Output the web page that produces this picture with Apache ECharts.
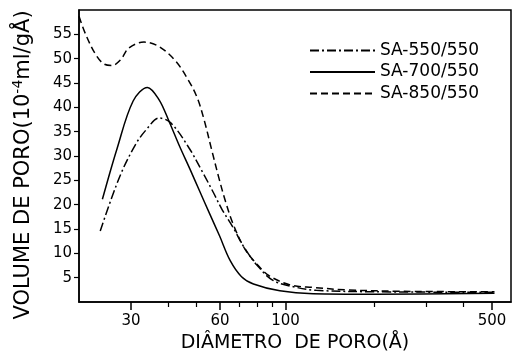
<!DOCTYPE html>
<html>
<head>
<meta charset="utf-8">
<script src="https://cdn.jsdelivr.net/npm/echarts@6/dist/echarts.min.js"></script>
<style>
    html, body { margin: 0; padding: 0; background: #fff; }
    #chart { width: 514px; height: 361px; }
</style>
</head>
<body>
<div id="chart"></div>
<script>
// pore diameter (Å) / pore volume (1e-4 ml/gÅ)
var diam550 = [23.6, 27.4, 31.1, 34, 37.3, 40.9, 47.1, 52.6, 57, 61, 66.5, 72, 80, 91, 109, 127, 200, 510]
var vol550 = [14.6, 25.6, 32.4, 35.6, 37.8, 36.8, 31.7, 26.5, 22.5, 19, 15.3, 11.5, 7.6, 4.4, 3.0, 2.4, 2.1, 2.0]
var diam700 = [24, 26.9, 30.5, 34.1, 37.3, 40.3, 43.8, 47.5, 51.2, 55.5, 59.8, 65, 71, 77.9, 95.7, 124, 200, 510]
var vol700 = [21.1, 31.5, 41.3, 44.1, 41.6, 37.2, 32, 27.3, 22.8, 18, 13.6, 8.5, 5.2, 3.7, 2.3, 1.7, 1.6, 1.8]
var diam850 = [20, 21.1, 22.8, 24.3, 25.9, 27.7, 29.5, 33.2, 37.3, 42.5, 47.1, 50.3, 53, 56.4, 59.5, 62.7, 66.5, 73, 80, 88, 104, 124, 160, 250, 510]
var vol850 = [58.7, 54.9, 50.8, 48.9, 48.6, 49.8, 52.2, 53.4, 52.5, 49.5, 45.4, 41.9, 37.5, 31, 25.5, 20.6, 16, 10.8, 7.8, 5.4, 3.5, 3.0, 2.5, 2.2, 2.1]

var seriesNames = ['SA-550/550', 'SA-700/550', 'SA-850/550']
var xTickLabels = [30, 60, 100, 500]
var xMinorTicks = [40, 50, 70, 80, 90, 200, 300, 400]
var yTicks = [5, 10, 15, 20, 25, 30, 35, 40, 45, 50, 55]

function lg(v) { return Math.log10(v) }
function toPairs(xs, ys) {
    return xs.map(function (x, i) { return [lg(x), ys[i]] })
}

var chart = echarts.init(document.getElementById('chart'))
var font = 'DejaVu Sans'
var xMin = lg(20)
var xMax = lg(580)

var option = {
    animation: false,
    textStyle: { fontFamily: font, color: '#000' },
    grid: {
        left: 79,
        right: 3,
        top: 10,
        bottom: 59,
        show: true,
        borderColor: '#000',
        borderWidth: 1.5,
    },
    legend: {
        orient: 'vertical',
        left: 304,
        top: 37,
        itemWidth: 65,
        itemHeight: 14,
        itemGap: 4.5,
        itemStyle: { opacity: 0 },
        textStyle: { fontFamily: font, fontSize: 17, color: '#000' },
        data: seriesNames,
    },
    xAxis: [
        {
            type: 'value',
            min: xMin,
            max: xMax,
            name: 'DIÂMETRO  DE PORO(Å)',
            nameLocation: 'middle',
            nameGap: 30,
            nameTextStyle: { fontFamily: font, fontSize: 19, color: '#000' },
            splitLine: { show: false },
            axisLine: { show: true, lineStyle: { color: '#000', width: 1.5 } },
            axisTick: {
                show: true,
                length: 8,
                lineStyle: { color: '#000', width: 1.5 },
                customValues: xTickLabels.map(lg),
            },
            axisLabel: {
                fontFamily: font,
                fontSize: 15,
                color: '#000',
                margin: 12,
                customValues: xTickLabels.map(lg),
                formatter: function (v) { return String(Math.round(Math.pow(10, v))) },
            },
        },
        {
            type: 'value',
            position: 'bottom',
            min: xMin,
            max: xMax,
            splitLine: { show: false },
            axisLine: { show: false },
            axisTick: {
                show: true,
                length: 5,
                lineStyle: { color: '#000', width: 1.2 },
                customValues: xMinorTicks.map(lg),
            },
            axisLabel: { show: false },
        },
    ],
    yAxis: {
        type: 'value',
        min: 0,
        max: 60,
        name: 'VOLUME DE PORO(10{sup|-4}ml/gÅ)',
        nameLocation: 'middle',
        nameRotate: 90,
        nameGap: 42,
        nameTextStyle: {
            fontFamily: font,
            fontSize: 21,
            color: '#000',
            padding: [0, 18, 0, 0],
            rich: {
                sup: { fontFamily: font, fontSize: 14, verticalAlign: 'top', padding: [0, 0, 12, 0] },
            },
        },
        splitLine: { show: false },
        axisLine: { show: true, lineStyle: { color: '#000', width: 1.5 } },
        axisTick: {
            show: true,
            length: 5,
            lineStyle: { color: '#000', width: 1.2 },
            customValues: yTicks,
        },
        axisLabel: {
            fontFamily: font,
            fontSize: 15,
            color: '#000',
            margin: 7,
            customValues: yTicks,
        },
    },
    series: [
        {
            name: seriesNames[0],
            type: 'line',
            smooth: 0.35,
            symbol: 'none',
            lineStyle: { color: '#000', width: 1.5, type: [9, 3, 2, 3] },
            itemStyle: { color: '#000' },
            data: toPairs(diam550, vol550),
        },
        {
            name: seriesNames[1],
            type: 'line',
            smooth: 0.35,
            symbol: 'none',
            lineStyle: { color: '#000', width: 1.5, type: 'solid' },
            itemStyle: { color: '#000' },
            data: toPairs(diam700, vol700),
        },
        {
            name: seriesNames[2],
            type: 'line',
            smooth: 0.35,
            symbol: 'none',
            lineStyle: { color: '#000', width: 1.5, type: [7, 4] },
            itemStyle: { color: '#000' },
            data: toPairs(diam850, vol850),
        },
    ],
}

chart.setOption(option)
</script>
</body>
</html>
